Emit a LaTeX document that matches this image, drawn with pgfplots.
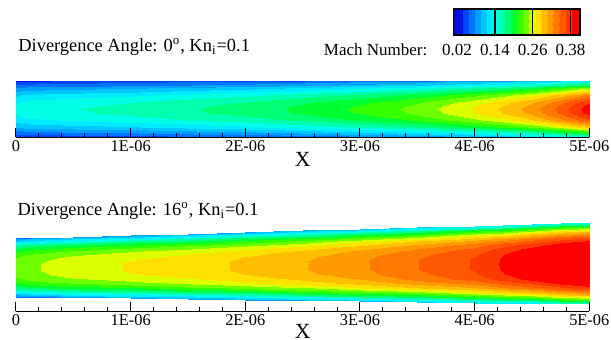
\documentclass[border=0pt]{standalone}
\usepackage{fontspec}
\setmainfont{Liberation Serif}
\usepackage{pgfplots}
\pgfplotsset{compat=1.18}
\usepackage{pgfplotstable}
\pgfplotsset{colormap={mach}{
 rgb255=(10,10,190) rgb255=(0,20,235) rgb255=(0,70,255) rgb255=(0,115,255)
 rgb255=(0,160,255) rgb255=(0,200,255) rgb255=(0,235,255) rgb255=(0,255,230)
 rgb255=(0,255,175) rgb255=(0,255,115) rgb255=(0,255,50) rgb255=(50,255,0)
 rgb255=(110,255,0) rgb255=(220,255,0) rgb255=(255,225,0) rgb255=(255,190,0)
 rgb255=(255,155,0) rgb255=(255,120,0) rgb255=(255,88,0) rgb255=(255,58,0)
 rgb255=(255,0,0) rgb255=(255,0,0)}}
% top channel (0 deg): x, y, Mach number
\pgfplotstableread[row sep=\\]{
x y m\\
0 0 .034\\0 .0125 .044\\0 .03125 .058\\0 .0625 .079\\0 .09375 .097\\0 .125 .111\\0 .15625 .123\\0 .1875 .131\\0 .21875 .135\\0 .25 .137\\0 .28125 .135\\0 .3125 .131\\0 .34375 .123\\0 .375 .111\\0 .40625 .097\\0 .4375 .079\\0 .46875 .058\\0 .4875 .044\\0 .5 .034\\
0.1 0 .036\\0.1 .0125 .046\\0.1 .03125 .062\\0.1 .0625 .084\\0.1 .09375 .103\\0.1 .125 .118\\0.1 .15625 .130\\0.1 .1875 .138\\0.1 .21875 .143\\0.1 .25 .145\\0.1 .28125 .143\\0.1 .3125 .138\\0.1 .34375 .130\\0.1 .375 .118\\0.1 .40625 .103\\0.1 .4375 .084\\0.1 .46875 .062\\0.1 .4875 .046\\0.1 .5 .036\\
0.5 0 .040\\0.5 .0125 .050\\0.5 .03125 .066\\0.5 .0625 .089\\0.5 .09375 .108\\0.5 .125 .124\\0.5 .15625 .136\\0.5 .1875 .145\\0.5 .21875 .150\\0.5 .25 .152\\0.5 .28125 .150\\0.5 .3125 .145\\0.5 .34375 .136\\0.5 .375 .124\\0.5 .40625 .108\\0.5 .4375 .089\\0.5 .46875 .066\\0.5 .4875 .050\\0.5 .5 .040\\
1 0 .042\\1 .0125 .054\\1 .03125 .070\\1 .0625 .093\\1 .09375 .113\\1 .125 .130\\1 .15625 .143\\1 .1875 .152\\1 .21875 .157\\1 .25 .159\\1 .28125 .157\\1 .3125 .152\\1 .34375 .143\\1 .375 .130\\1 .40625 .113\\1 .4375 .093\\1 .46875 .070\\1 .4875 .054\\1 .5 .042\\
1.5 0 .047\\1.5 .0125 .059\\1.5 .03125 .076\\1.5 .0625 .101\\1.5 .09375 .122\\1.5 .125 .139\\1.5 .15625 .153\\1.5 .1875 .162\\1.5 .21875 .168\\1.5 .25 .170\\1.5 .28125 .168\\1.5 .3125 .162\\1.5 .34375 .153\\1.5 .375 .139\\1.5 .40625 .122\\1.5 .4375 .101\\1.5 .46875 .076\\1.5 .4875 .059\\1.5 .5 .047\\
2 0 .051\\2 .0125 .063\\2 .03125 .081\\2 .0625 .107\\2 .09375 .130\\2 .125 .148\\2 .15625 .162\\2 .1875 .172\\2 .21875 .178\\2 .25 .180\\2 .28125 .178\\2 .3125 .172\\2 .34375 .162\\2 .375 .148\\2 .40625 .130\\2 .4375 .107\\2 .46875 .081\\2 .4875 .063\\2 .5 .051\\
2.5 0 .057\\2.5 .0125 .070\\2.5 .03125 .089\\2.5 .0625 .118\\2.5 .09375 .142\\2.5 .125 .161\\2.5 .15625 .176\\2.5 .1875 .187\\2.5 .21875 .194\\2.5 .25 .196\\2.5 .28125 .194\\2.5 .3125 .187\\2.5 .34375 .176\\2.5 .375 .161\\2.5 .40625 .142\\2.5 .4375 .118\\2.5 .46875 .089\\2.5 .4875 .070\\2.5 .5 .057\\
3 0 .064\\3 .0125 .078\\3 .03125 .099\\3 .0625 .130\\3 .09375 .155\\3 .125 .176\\3 .15625 .193\\3 .1875 .205\\3 .21875 .212\\3 .25 .214\\3 .28125 .212\\3 .3125 .205\\3 .34375 .193\\3 .375 .176\\3 .40625 .155\\3 .4375 .130\\3 .46875 .099\\3 .4875 .078\\3 .5 .064\\
3.5 0 .072\\3.5 .0125 .088\\3.5 .03125 .111\\3.5 .0625 .144\\3.5 .09375 .172\\3.5 .125 .195\\3.5 .15625 .213\\3.5 .1875 .226\\3.5 .21875 .233\\3.5 .25 .236\\3.5 .28125 .233\\3.5 .3125 .226\\3.5 .34375 .213\\3.5 .375 .195\\3.5 .40625 .172\\3.5 .4375 .144\\3.5 .46875 .111\\3.5 .4875 .088\\3.5 .5 .072\\
4 0 .085\\4 .0125 .103\\4 .03125 .128\\4 .0625 .166\\4 .09375 .198\\4 .125 .224\\4 .15625 .244\\4 .1875 .258\\4 .21875 .267\\4 .25 .270\\4 .28125 .267\\4 .3125 .258\\4 .34375 .244\\4 .375 .224\\4 .40625 .198\\4 .4375 .166\\4 .46875 .128\\4 .4875 .103\\4 .5 .085\\
4.25 0 .092\\4.25 .0125 .112\\4.25 .03125 .139\\4.25 .0625 .179\\4.25 .09375 .213\\4.25 .125 .241\\4.25 .15625 .262\\4.25 .1875 .278\\4.25 .21875 .287\\4.25 .25 .290\\4.25 .28125 .287\\4.25 .3125 .278\\4.25 .34375 .262\\4.25 .375 .241\\4.25 .40625 .213\\4.25 .4375 .179\\4.25 .46875 .139\\4.25 .4875 .112\\4.25 .5 .092\\
4.5 0 .101\\4.5 .0125 .122\\4.5 .03125 .151\\4.5 .0625 .195\\4.5 .09375 .232\\4.5 .125 .262\\4.5 .15625 .285\\4.5 .1875 .302\\4.5 .21875 .312\\4.5 .25 .315\\4.5 .28125 .312\\4.5 .3125 .302\\4.5 .34375 .285\\4.5 .375 .262\\4.5 .40625 .232\\4.5 .4375 .195\\4.5 .46875 .151\\4.5 .4875 .122\\4.5 .5 .101\\
4.75 0 .115\\4.75 .0125 .138\\4.75 .03125 .170\\4.75 .0625 .219\\4.75 .09375 .259\\4.75 .125 .293\\4.75 .15625 .319\\4.75 .1875 .337\\4.75 .21875 .348\\4.75 .25 .352\\4.75 .28125 .348\\4.75 .3125 .337\\4.75 .34375 .319\\4.75 .375 .293\\4.75 .40625 .259\\4.75 .4375 .219\\4.75 .46875 .170\\4.75 .4875 .138\\4.75 .5 .115\\
5 0 .130\\5 .0125 .156\\5 .03125 .192\\5 .0625 .246\\5 .09375 .292\\5 .125 .329\\5 .15625 .358\\5 .1875 .378\\5 .21875 .391\\5 .25 .395\\5 .28125 .391\\5 .3125 .378\\5 .34375 .358\\5 .375 .329\\5 .40625 .292\\5 .4375 .246\\5 .46875 .192\\5 .4875 .156\\5 .5 .130\\
}\toptable
% bottom channel (16 deg): x, y, Mach number
\pgfplotstableread[row sep=\\]{
x y m\\
0 .1027 .071\\0 .1156 .094\\0 .1350 .125\\0 .1673 .166\\0 .1996 .196\\0 .2319 .215\\0 .2642 .227\\0 .2965 .233\\0 .3288 .236\\0 .3611 .236\\0 .3934 .236\\0 .4257 .233\\0 .4580 .227\\0 .4903 .215\\0 .5226 .196\\0 .5549 .166\\0 .5872 .125\\0 .6066 .094\\0 .6195 .071\\
0.1 .1014 .073\\0.1 .1144 .098\\0.1 .1340 .130\\0.1 .1665 .172\\0.1 .1991 .202\\0.1 .2316 .223\\0.1 .2642 .235\\0.1 .2967 .241\\0.1 .3293 .244\\0.1 .3619 .244\\0.1 .3944 .244\\0.1 .4270 .241\\0.1 .4595 .235\\0.1 .4921 .223\\0.1 .5246 .202\\0.1 .5572 .172\\0.1 .5897 .130\\0.1 .6093 .098\\0.1 .6223 .073\\
0.5 .0962 .078\\0.5 .1096 .104\\0.5 .1298 .137\\0.5 .1634 .182\\0.5 .1969 .214\\0.5 .2305 .236\\0.5 .2641 .249\\0.5 .2977 .255\\0.5 .3312 .258\\0.5 .3648 .258\\0.5 .3984 .258\\0.5 .4319 .255\\0.5 .4655 .249\\0.5 .4991 .236\\0.5 .5327 .214\\0.5 .5662 .182\\0.5 .5998 .137\\0.5 .6200 .104\\0.5 .6334 .078\\
1 .0898 .082\\1 .1037 .108\\1 .1247 .144\\1 .1595 .190\\1 .1944 .223\\1 .2292 .246\\1 .2641 .259\\1 .2989 .266\\1 .3338 .269\\1 .3686 .269\\1 .4034 .269\\1 .4383 .266\\1 .4731 .259\\1 .5080 .246\\1 .5428 .223\\1 .5777 .190\\1 .6125 .144\\1 .6335 .108\\1 .6474 .082\\
1.5 .0833 .085\\1.5 .0978 .112\\1.5 .1194 .148\\1.5 .1556 .196\\1.5 .1917 .230\\1.5 .2278 .253\\1.5 .2640 .267\\1.5 .3001 .274\\1.5 .3362 .277\\1.5 .3724 .277\\1.5 .4085 .277\\1.5 .4446 .274\\1.5 .4807 .267\\1.5 .5169 .253\\1.5 .5530 .230\\1.5 .5891 .196\\1.5 .6253 .148\\1.5 .6469 .112\\1.5 .6614 .085\\
2 .0768 .089\\2 .0918 .118\\2 .1142 .156\\2 .1516 .205\\2 .1890 .241\\2 .2264 .265\\2 .2638 .279\\2 .3012 .287\\2 .3386 .290\\2 .3761 .290\\2 .4135 .290\\2 .4509 .287\\2 .4883 .279\\2 .5257 .265\\2 .5631 .241\\2 .6005 .205\\2 .6379 .156\\2 .6603 .118\\2 .6753 .089\\
2.5 .0704 .094\\2.5 .0859 .124\\2.5 .1091 .163\\2.5 .1478 .216\\2.5 .1864 .253\\2.5 .2251 .278\\2.5 .2638 .293\\2.5 .3025 .301\\2.5 .3412 .304\\2.5 .3799 .304\\2.5 .4185 .304\\2.5 .4572 .301\\2.5 .4959 .293\\2.5 .5346 .278\\2.5 .5733 .253\\2.5 .6119 .216\\2.5 .6506 .163\\2.5 .6738 .124\\2.5 .6893 .094\\
3 .0639 .100\\3 .0799 .132\\3 .1039 .173\\3 .1438 .228\\3 .1838 .267\\3 .2237 .293\\3 .2637 .309\\3 .3036 .318\\3 .3436 .321\\3 .3836 .321\\3 .4235 .321\\3 .4635 .318\\3 .5034 .309\\3 .5434 .293\\3 .5833 .267\\3 .6233 .228\\3 .6632 .173\\3 .6872 .132\\3 .7032 .100\\
3.5 .0574 .108\\3.5 .0739 .141\\3.5 .0986 .185\\3.5 .1399 .244\\3.5 .1811 .286\\3.5 .2223 .314\\3.5 .2636 .331\\3.5 .3048 .339\\3.5 .3460 .343\\3.5 .3873 .343\\3.5 .4285 .343\\3.5 .4697 .339\\3.5 .5109 .331\\3.5 .5522 .314\\3.5 .5934 .286\\3.5 .6346 .244\\3.5 .6759 .185\\3.5 .7006 .141\\3.5 .7171 .108\\
4 .0509 .115\\4 .0679 .151\\4 .0934 .198\\4 .1359 .260\\4 .1784 .304\\4 .2210 .334\\4 .2635 .352\\4 .3060 .361\\4 .3485 .365\\4 .3910 .365\\4 .4335 .365\\4 .4760 .361\\4 .5185 .352\\4 .5610 .334\\4 .6036 .304\\4 .6461 .260\\4 .6886 .198\\4 .7141 .151\\4 .7311 .115\\
4.25 .0477 .122\\4.25 .0650 .160\\4.25 .0909 .209\\4.25 .1340 .274\\4.25 .1772 .321\\4.25 .2203 .352\\4.25 .2635 .371\\4.25 .3066 .381\\4.25 .3498 .384\\4.25 .3929 .385\\4.25 .4360 .384\\4.25 .4792 .381\\4.25 .5223 .371\\4.25 .5655 .352\\4.25 .6086 .321\\4.25 .6518 .274\\4.25 .6949 .209\\4.25 .7208 .160\\4.25 .7381 .122\\
4.5 .0445 .128\\4.5 .0620 .167\\4.5 .0883 .219\\4.5 .1321 .287\\4.5 .1759 .336\\4.5 .2197 .369\\4.5 .2634 .389\\4.5 .3072 .399\\4.5 .3510 .402\\4.5 .3948 .403\\4.5 .4386 .402\\4.5 .4824 .399\\4.5 .5262 .389\\4.5 .5699 .369\\4.5 .6137 .336\\4.5 .6575 .287\\4.5 .7013 .219\\4.5 .7276 .167\\4.5 .7451 .128\\
4.75 .0412 .134\\4.75 .0590 .175\\4.75 .0856 .228\\4.75 .1301 .299\\4.75 .1745 .350\\4.75 .2189 .384\\4.75 .2633 .405\\4.75 .3078 .416\\4.75 .3522 .419\\4.75 .3966 .420\\4.75 .4410 .419\\4.75 .4854 .416\\4.75 .5299 .405\\4.75 .5743 .384\\4.75 .6187 .350\\4.75 .6631 .299\\4.75 .7076 .228\\4.75 .7342 .175\\4.75 .7520 .134\\
5 .0380 .139\\5 .0560 .181\\5 .0831 .237\\5 .1281 .310\\5 .1732 .363\\5 .2183 .398\\5 .2633 .419\\5 .3084 .430\\5 .3534 .434\\5 .3985 .435\\5 .4436 .434\\5 .4886 .430\\5 .5337 .419\\5 .5788 .398\\5 .6238 .363\\5 .6689 .310\\5 .7139 .237\\5 .7410 .181\\5 .7590 .139\\
}\bottable
\pgfplotstableread[row sep=\\]{
x y m\\
0.008 0 0.008\\0.008 1 0.008\\0.41 0 0.41\\0.41 1 0.41\\
}\cbtable
\pgfplotsset{
 chan/.style={scale only axis, width=286.65pt, xmin=0, xmax=5, enlargelimits=false,
  axis x line*=bottom, axis y line=none, axis on top,
  xtick={0,1,2,3,4,5}, xticklabels={0,1E-06,2E-06,3E-06,4E-06,5E-06},
  minor x tick num=4, tick align=inside, major tick length=4.5pt, minor tick length=2pt,
  tick style={black, line width=0.5pt}, axis line style={black, line width=0.5pt},
  xticklabel style={font=\fontsize{8.2}{10}\selectfont, anchor=base, yshift=-7.1pt},
  xlabel={X}, xlabel style={font=\fontsize{10.8}{12}\selectfont, at={(axis description cs:0.5,0)}, anchor=base, yshift=-14.5pt},
  colormap name=mach, colormap access=piecewise constant, point meta min=0, point meta max=0.42},
 field/.style={surf, shader=interp, mesh/ordering=y varies, mesh/rows=19, mesh/cols=14, point meta=explicit}
}
\begin{document}
\begin{tikzpicture}
\path[use as bounding box] (0,0) rectangle (305.5pt,170pt);
\begin{axis}[chan, at={(8pt,101.25pt)}, anchor=south west, height=28.25pt, ymin=0, ymax=0.5]
\addplot[field] table[x=x, y=y, meta=m] {\toptable};
\end{axis}
\begin{axis}[chan, at={(8pt,14.25pt)}, anchor=south west, height=46.8pt, ymin=-0.0283, ymax=0.8,
  xlabel style={yshift=1.2pt}]
\addplot[field] table[x=x, y=y, meta=m] {\bottable};
\end{axis}
\begin{axis}[at={(226.65pt,152.5pt)}, anchor=south west, scale only axis, width=63.35pt, height=13pt,
  xmin=0.008, xmax=0.41, ymin=0, ymax=1, enlargelimits=false, ytick=\empty,
  xtick={0.14,0.26,0.38}, xticklabels={0.14,0.26,0.38},
  extra x ticks={0.02}, extra x tick labels={0.02}, extra x tick style={major tick length=0pt},
  xtick pos=bottom, tick align=inside, major tick length=13pt, axis on top,
  tick style={black, line width=0.6pt}, axis line style={black, line width=0.8pt},
  xticklabel style={font=\fontsize{8.5}{10}\selectfont, anchor=base, yshift=-10.35pt},
  colormap name=mach, colormap access=piecewise constant, point meta min=0, point meta max=0.42]
\addplot[surf, shader=interp, mesh/ordering=y varies, mesh/rows=2, mesh/cols=2, point meta=explicit] table[x=x, y=y, meta=m] {\cbtable};
\end{axis}
\node[anchor=base west, inner sep=0pt, font=\fontsize{9.2}{11}\selectfont] at (9pt,144.15pt) {Divergence Angle: 0\textsuperscript{o}, Kn\textsubscript{i}=0.1};
\node[anchor=base west, inner sep=0pt, font=\fontsize{9.2}{11}\selectfont] at (8.65pt,62pt) {Divergence Angle: 16\textsuperscript{o}, Kn\textsubscript{i}=0.1};
\node[anchor=base east, inner sep=0pt, font=\fontsize{8.5}{10}\selectfont] at (213.85pt,142.15pt) {Mach Number:};
\end{tikzpicture}
\end{document}
